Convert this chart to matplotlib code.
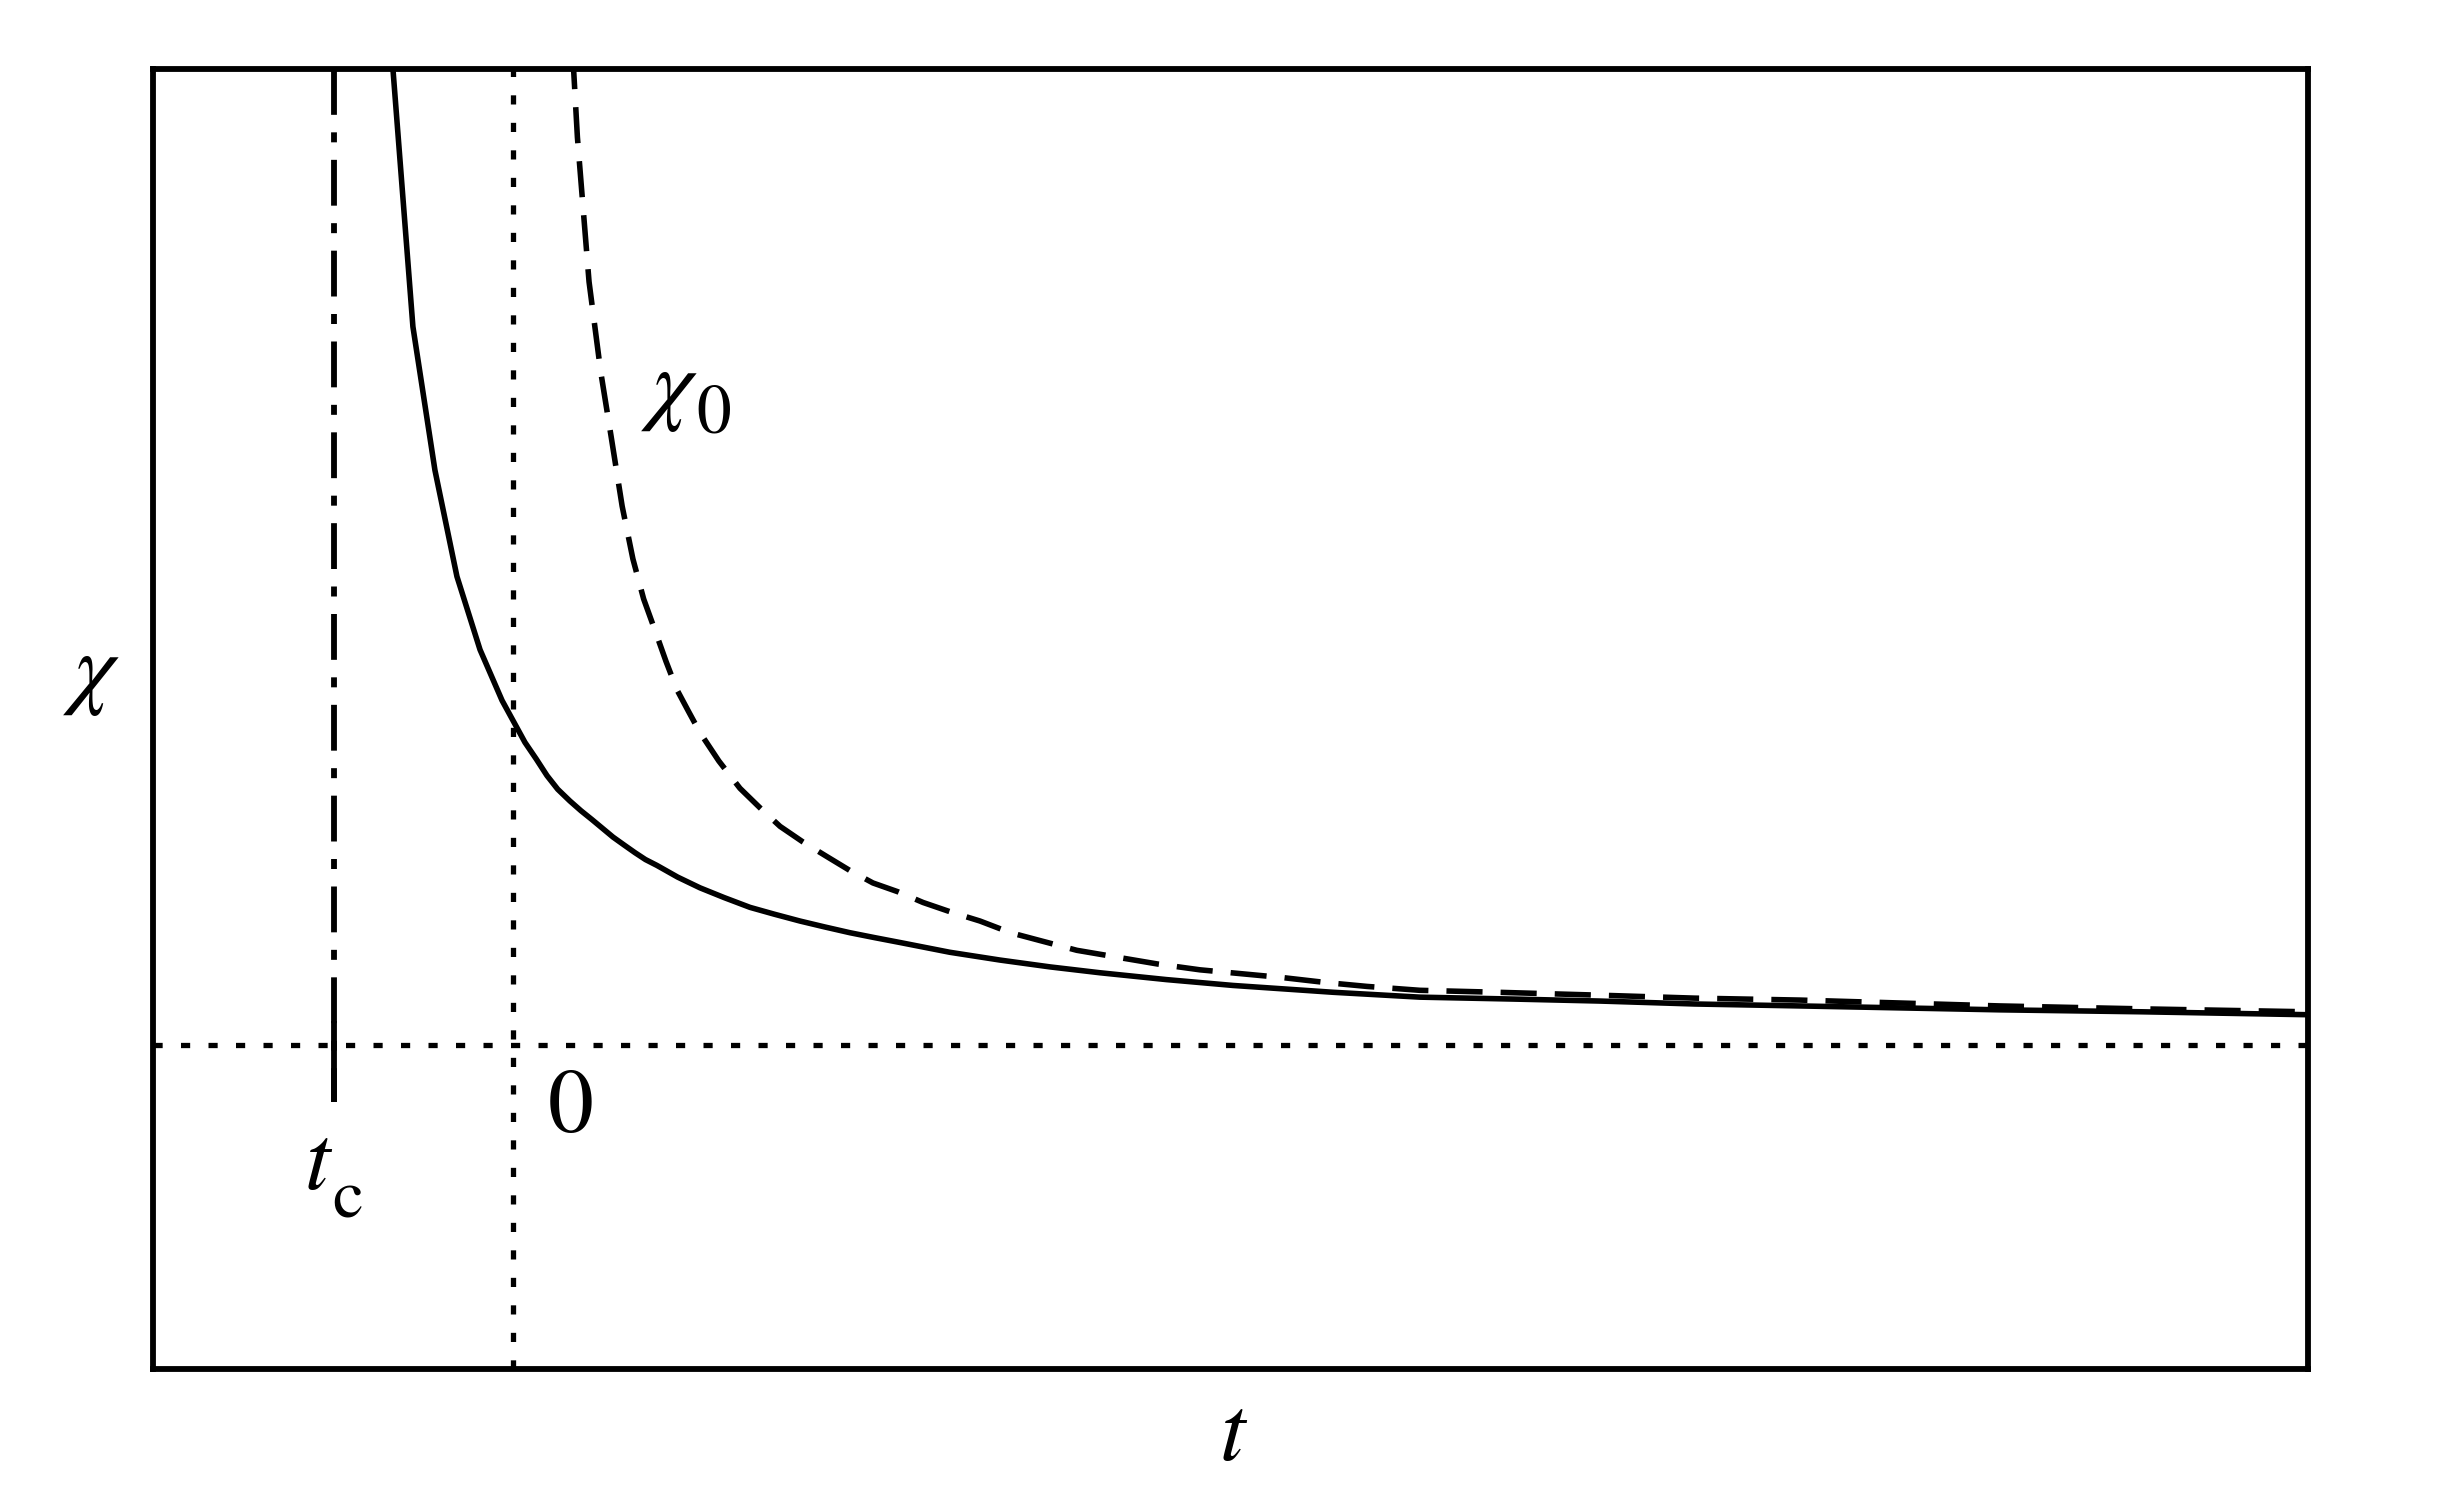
import matplotlib
matplotlib.use("Agg")
import matplotlib.pyplot as plt

plt.rcParams['mathtext.fontset'] = 'stix'
plt.rcParams['font.family'] = ['STIXGeneral', 'DejaVu Serif']
plt.rcParams['lines.scale_dashes'] = False

# --- data ---
t_chi = [-0.682, -0.559, -0.436, -0.313, -0.184, -0.061, 0.067, 0.13, 0.190,
         0.25, 0.318, 0.38, 0.441, 0.50, 0.559, 0.62, 0.682, 0.74, 0.804,
         0.92, 1.045, 1.18, 1.324, 1.46, 1.603, 1.74, 1.883, 2.02, 2.162,
         2.44, 2.721, 3.0, 3.279, 3.65, 4.022, 4.581, 5.067, 5.6, 6.073,
         6.6, 7.190, 7.75, 8.307, 9.1, 10.028]
chi = [10.27, 7.36, 5.89, 4.80, 4.05, 3.53, 3.10, 2.93, 2.76,
       2.62, 2.50, 2.40, 2.31, 2.22, 2.13, 2.05, 1.97, 1.90, 1.84,
       1.72, 1.61, 1.51, 1.41, 1.34, 1.27, 1.21, 1.15, 1.10, 1.05,
       0.95, 0.87, 0.80, 0.74, 0.67, 0.61, 0.54, 0.49, 0.47, 0.45,
       0.42, 0.40, 0.38, 0.36, 0.34, 0.31]

t_chi0 = [0.302, 0.36, 0.425, 0.49, 0.547, 0.61, 0.670, 0.73, 0.793, 0.855,
          0.916, 0.98, 1.045, 1.15, 1.268, 1.38, 1.492, 1.62, 1.754, 1.88,
          2.011, 2.15, 2.291, 2.45, 2.609, 2.78, 2.944, 3.15, 3.374, 3.6,
          3.838, 4.07, 4.302, 4.54, 4.771, 5.067, 5.5, 6.073, 6.6, 7.190,
          7.75, 8.307, 9.1, 10.028]
chi0 = [11.2, 9.3, 7.82, 6.9, 6.25, 5.52, 4.98, 4.57, 4.25, 3.93,
        3.64, 3.42, 3.20, 2.91, 2.63, 2.43, 2.24, 2.08, 1.93, 1.79,
        1.66, 1.57, 1.46, 1.36, 1.27, 1.15, 1.07, 0.97, 0.90, 0.83,
        0.77, 0.73, 0.69, 0.64, 0.60, 0.56, 0.54, 0.51, 0.48, 0.46,
        0.43, 0.40, 0.37, 0.34]

t_c = -1.0
t_zero = 0.0
chi_zero = 0.0
tc_line_bottom = -0.584
tc_tick_top = 0.25

x_range = (-2.011, 10.028)
y_range = (-3.32, 10.0)

# --- figure ---
fig = plt.figure(figsize=(12.21, 7.47), dpi=200)
ax = fig.add_axes([153/2442, 1 - 1369/1494, (2308-153)/2442, (1369-69)/1494])
ax.set_xlim(*x_range)
ax.set_ylim(*y_range)
ax.set_xticks([])
ax.set_yticks([])
for s in ax.spines.values():
    s.set_linewidth(2.1)
    s.set_color('black')

# reference lines
ax.axhline(chi_zero, color='black', lw=1.9, linestyle=(0, (3.3, 6.6)))
ax.axvline(t_zero, color='black', lw=1.9, linestyle=(0, (3.3, 6.6)))
ax.plot([t_c, t_c], [y_range[1], tc_line_bottom], color='black', lw=2.1,
        linestyle=(0, (16.5, 6.3, 3.6, 6.3)))
ax.plot([t_c, t_c], [tc_tick_top, tc_line_bottom], color='black', lw=2.1,
        solid_capstyle='butt')

# curves
ax.plot(t_chi, chi, color='black', lw=2.0, solid_joinstyle='round')
ax.plot(t_chi0, chi0, color='black', lw=2.0, linestyle=(0, (13.0, 6.5)))

# labels
fs = 33
fs_sub = 25
ax.text(0.877, 6.68, r'$\chi$', fontsize=fs, ha='center', va='center')
ax.text(1.12, 6.44, r'$0$', fontsize=fs_sub, ha='center', va='center')
ax.text(-1.085, -1.26, r'$t$', fontsize=fs, ha='center', va='center')
ax.text(-0.925, -1.588, r'$\mathrm{c}$', fontsize=fs_sub, ha='center', va='center')
ax.text(0.318, -0.676, r'$0$', fontsize=fs, ha='center', va='center')
ax.text(-0.0283, 0.5323, r'$\chi$', fontsize=fs, ha='center', va='center',
        transform=ax.transAxes)
ax.text(0.5012, -0.0538, r'$t$', fontsize=fs, ha='center', va='center',
        transform=ax.transAxes)

fig.savefig('out.png', dpi=200)
